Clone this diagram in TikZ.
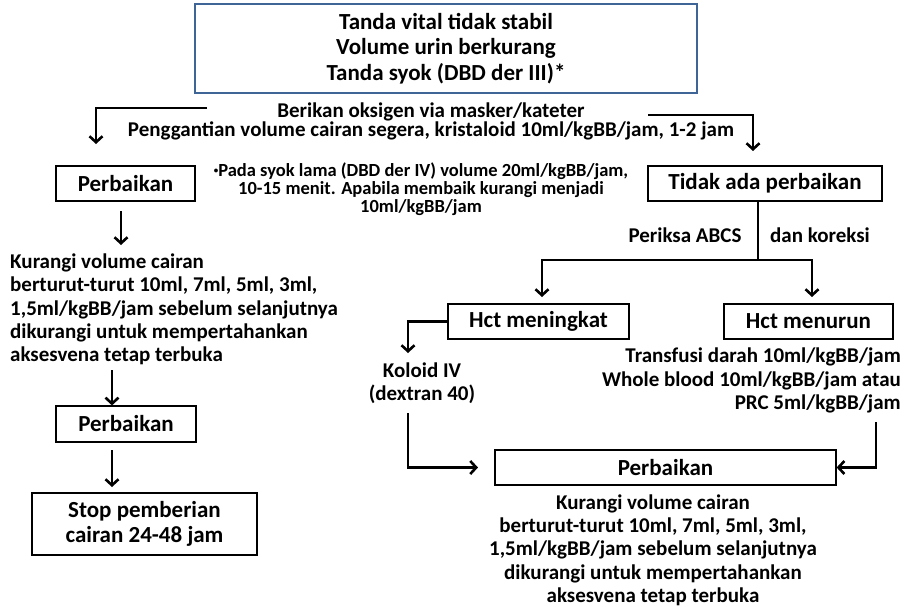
\documentclass[tikz,border=0pt]{standalone}
\usepackage{fontspec}
\setmainfont{Carlito}
\usetikzlibrary{arrows.meta}
\definecolor{topblue}{HTML}{3F6496}
\newcommand{\smallbul}{\raisebox{3.5pt}{\fontsize{9}{9}\selectfont•}}
\begin{document}
\begin{tikzpicture}[x=1pt,y=-1pt,
  lbl/.style={font=\fontsize{23}{25.5}\selectfont\bfseries, align=center},
  body/.style={font=\fontsize{21}{23.3}\selectfont\bfseries, inner sep=0pt},
  small/.style={font=\fontsize{18.5}{17.8}\selectfont\bfseries, inner sep=0pt, align=center},
  box/.style={draw=black, line width=1.2pt, inner sep=0pt, lbl},
  conn/.style={line width=2.6pt, -{Straight Barb[length=6pt,width=13pt]}},
  plain/.style={line width=2.6pt}]
\useasboundingbox[fill=white] (0,0) rectangle (908,606);

% top box
\node[box, draw=topblue, line width=2.6pt, minimum width=502pt, minimum height=89pt] (top) at (446,48.5)
  {Tanda vital tidak stabil\\Volume urin berkurang\\Tanda syok (DBD der III)*};

\node[body] (ber1) at (431,112) {Berikan oksigen via masker/kateter};
\node[body] (ber2) at (431,131) {Penggantian volume cairan segera, kristaloid 10ml/kgBB/jam, 1-2 jam};
\node[small] (note) at (421,189) {\smallbul Pada syok lama (DBD der IV) volume 20ml/kgBB/jam,\\10-15 menit. Apabila membaik kurangi menjadi\\10ml/kgBB/jam};

% left branch
\node[box, minimum width=139pt, minimum height=35pt] (perb1) at (125.5,183.5) {Perbaikan};
\node[body, anchor=west, align=left] (kur1) at (10,309.5) {Kurangi volume cairan\\berturut-turut 10ml, 7ml, 5ml, 3ml,\\1,5ml/kgBB/jam sebelum selanjutnya\\dikurangi untuk mempertahankan\\aksesvena tetap terbuka};
\node[box, minimum width=140pt, minimum height=36pt] (perb2) at (126,424) {Perbaikan};
\node[box, minimum width=225pt, minimum height=62pt] (stop) at (144.5,524) {Stop pemberian\\cairan 24-48 jam};

% right branch
\node[box, minimum width=234pt, minimum height=35pt] (tidak) at (765,183.5) {Tidak ada perbaikan};
\node[body] (periksa) at (685,235) {Periksa ABCS};
\node[body] (koreksi) at (820,235) {dan koreksi};
\node[box, minimum width=181pt, minimum height=35pt] (hm) at (538.5,321.5) {Hct meningkat};
\node[box, minimum width=169pt, minimum height=35pt] (hn) at (808.5,321.5) {Hct menurun};
\node[body, align=center] (koloid) at (422,383.5) {Koloid IV\\(dextran 40)};
\node[body, anchor=east, align=right] (transf) at (901,380.5) {Transfusi darah 10ml/kgBB/jam\\Whole blood 10ml/kgBB/jam atau\\PRC 5ml/kgBB/jam};
\node[box, minimum width=341pt, minimum height=35pt] (perbB) at (665.5,467.5) {Perbaikan};
\node[body, align=center] (kur2) at (653,550) {Kurangi volume cairan\\berturut-turut 10ml, 7ml, 5ml, 3ml,\\1,5ml/kgBB/jam sebelum selanjutnya\\dikurangi untuk mempertahankan\\aksesvena tetap terbuka};

% coordinates for free ends
\coordinate (lt1) at (207,108);
\coordinate (lt2) at (96,144);
\coordinate (rt1) at (648,115);
\coordinate (rt2) at (753,151);
\coordinate (a1s) at (121,211);
\coordinate (a1e) at (121,245);
\coordinate (a2s) at (112,370);
\coordinate (a3s) at (112,450);
\coordinate (a3e) at (112,487);
\coordinate (br) at (758,260);
\coordinate (hmT) at (542,297);
\coordinate (hnT) at (812,297);
\coordinate (kt) at (408,353);
\coordinate (kb) at (408,413);
\coordinate (ke) at (478,467.5);
\coordinate (tb) at (876,422);

% connectors
\draw[conn] (lt1) -| (lt2);
\draw[conn] (rt1) -| (rt2);
\draw[conn] (a1s) -- (a1e);
\draw[conn] (a2s) -- (a2s |- perb2.north);
\draw[conn] (a3s) -- (a3e);
\draw[plain] (tidak.south -| br) -- (br);
\draw[conn] (br) -| (hmT);
\draw[conn] (br) -| (hnT);
\draw[conn] (hm.west) -| (kt);
\draw[conn] (kb) |- (ke);
\draw[conn] (tb) |- (perbB.east);
\end{tikzpicture}
\end{document}
